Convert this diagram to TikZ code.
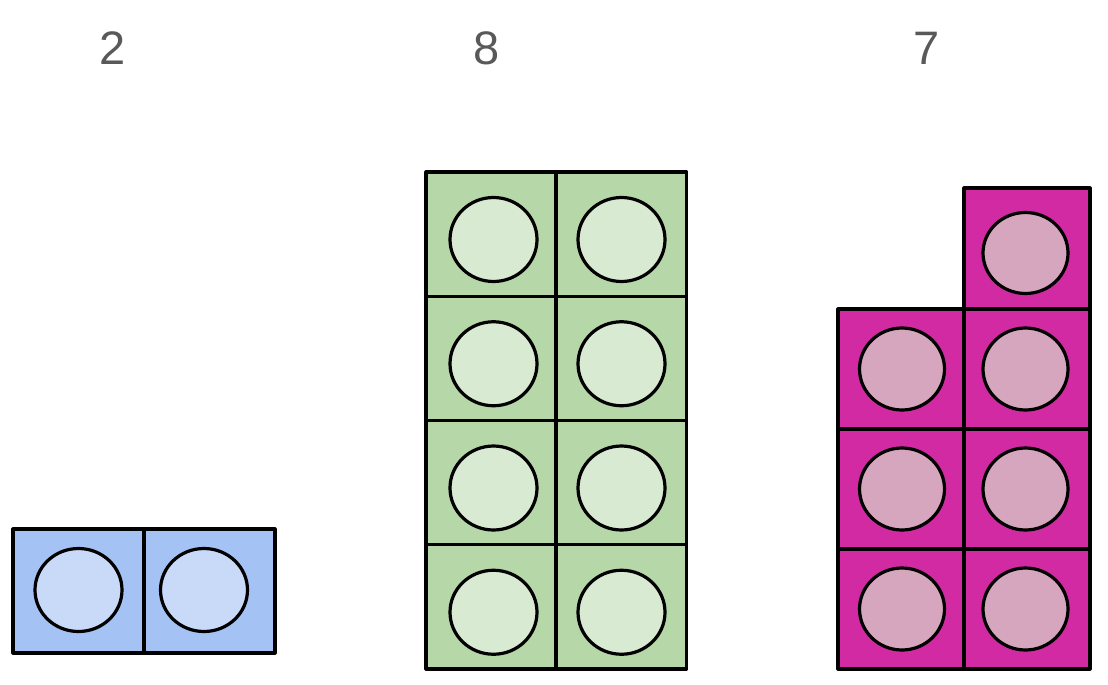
\documentclass[tikz,border=0pt]{standalone}
\usepackage{fontspec}
\setmainfont{Liberation Sans}
\definecolor{bluedark}{HTML}{A4C2F4}
\definecolor{bluelight}{HTML}{C9DAF8}
\definecolor{greendark}{HTML}{B6D7A8}
\definecolor{greenlight}{HTML}{D9EAD3}
\definecolor{magdark}{HTML}{D22AA3}
\definecolor{maglight}{HTML}{D5A6BD}
\definecolor{labelgray}{HTML}{595959}
\begin{document}
\begin{tikzpicture}[x=1pt,y=-1pt,line width=3.2pt,line join=round,
  cellbox/.style={draw=black},
  pegcircle/.style={draw=black},
  numlabel/.style={text=labelgray,font=\fontsize{47}{50}\selectfont,inner sep=0pt}]
\useasboundingbox (0,0) rectangle (1108,685);
% labels
\node[numlabel] (l2) at (113,48) {2};
\node[numlabel] (l8) at (487,48) {8};
\node[numlabel] (l7) at (927,48) {7};
% blue
\foreach \x/\cx in {13/78.5,144/204}{
  \draw[cellbox,fill=bluedark] (\x,529) rectangle +(131,124);
  \draw[pegcircle,fill=bluelight] (\cx,590) ellipse [x radius=43.5,y radius=41.5];
}
% green
\foreach \x/\cx in {426/493.5,556/621.5}{
  \foreach \y in {172,296.25,420.5,544.75}{
    \draw[cellbox,fill=greendark] (\x,\y) rectangle +(130.5,124.25);
    \draw[pegcircle,fill=greenlight] (\cx,\y+67.5) ellipse [x radius=43.5,y radius=42];
  }
}
% magenta
\draw[cellbox,fill=magdark] (964,188) rectangle +(126,121);
\draw[pegcircle,fill=maglight] (1025.5,253) ellipse [x radius=42.5,y radius=40.5];
\foreach \x/\cx in {838/902,964/1025.5}{
  \foreach \y in {309,429,549}{
    \draw[cellbox,fill=magdark] (\x,\y) rectangle +(126,120);
    \draw[pegcircle,fill=maglight] (\cx,\y+60) ellipse [x radius=42.5,y radius=41];
  }
}
\end{tikzpicture}
\end{document}
